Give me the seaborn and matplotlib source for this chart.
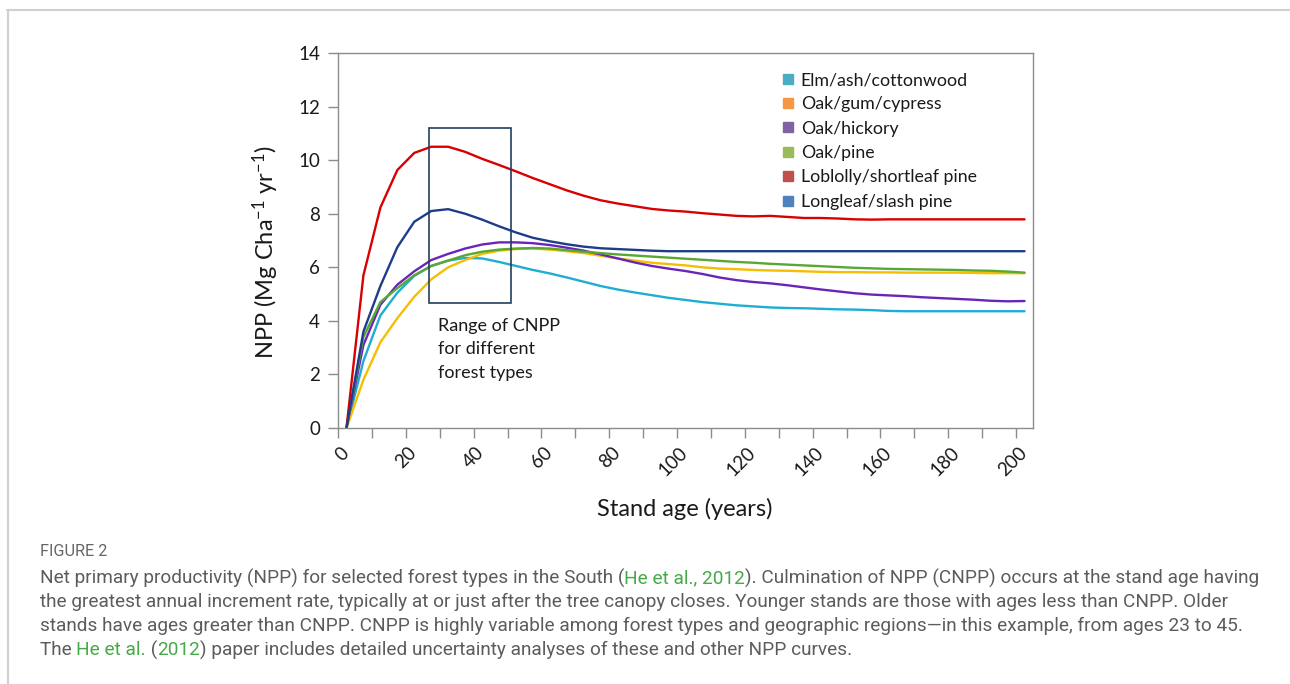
import matplotlib
matplotlib.use("Agg")
import matplotlib.pyplot as plt
import matplotlib.transforms as mtransforms
from matplotlib import font_manager
from matplotlib.lines import Line2D
from matplotlib.patches import Rectangle
import pandas as pd
import seaborn as sns

# NPP (Mg C/ha/yr), one value every 5 years of stand age
ages = list(range(0, 205, 5))
elm_ash_cottonwood = [0, 2.5, 4.2, 5.05, 5.68, 6.05, 6.25, 6.35, 6.33, 6.2,
                      6.05, 5.9, 5.77, 5.62, 5.46, 5.3, 5.17, 5.06, 4.96, 4.86,
                      4.78, 4.7, 4.64, 4.58, 4.54, 4.5, 4.48, 4.47, 4.45, 4.43,
                      4.42, 4.4, 4.37, 4.36, 4.36, 4.36, 4.36, 4.36, 4.36, 4.36, 4.36]
oak_gum_cypress = [0, 1.8, 3.2, 4.1, 4.9, 5.55, 6.0, 6.27, 6.5, 6.62,
                   6.68, 6.7, 6.66, 6.6, 6.53, 6.43, 6.33, 6.25, 6.17, 6.12,
                   6.07, 6.0, 5.95, 5.93, 5.9, 5.88, 5.87, 5.85, 5.83, 5.82,
                   5.82, 5.81, 5.81, 5.8, 5.8, 5.8, 5.8, 5.79, 5.78, 5.78, 5.78]
oak_hickory = [0, 3.1, 4.6, 5.35, 5.85, 6.27, 6.5, 6.7, 6.85, 6.93,
               6.93, 6.9, 6.83, 6.73, 6.62, 6.48, 6.33, 6.18, 6.05, 5.95,
               5.86, 5.75, 5.62, 5.52, 5.45, 5.4, 5.33, 5.25, 5.17, 5.1,
               5.03, 4.98, 4.95, 4.92, 4.88, 4.85, 4.82, 4.79, 4.75, 4.73, 4.74]
oak_pine = [0, 3.4, 4.7, 5.22, 5.7, 6.05, 6.25, 6.45, 6.58, 6.66,
            6.7, 6.72, 6.7, 6.64, 6.58, 6.53, 6.48, 6.44, 6.4, 6.36,
            6.32, 6.28, 6.24, 6.2, 6.17, 6.13, 6.1, 6.07, 6.04, 6.01,
            5.98, 5.96, 5.94, 5.93, 5.92, 5.91, 5.9, 5.88, 5.87, 5.84, 5.8]
loblolly_shortleaf = [0, 5.7, 8.23, 9.63, 10.27, 10.5, 10.5, 10.31, 10.05, 9.82,
                      9.58, 9.33, 9.1, 8.87, 8.67, 8.5, 8.38, 8.28, 8.18, 8.12,
                      8.08, 8.02, 7.97, 7.92, 7.9, 7.92, 7.88, 7.84, 7.84, 7.82,
                      7.79, 7.78, 7.79, 7.79, 7.79, 7.79, 7.79, 7.79, 7.79, 7.79, 7.79]
longleaf_slash = [0, 3.6, 5.3, 6.75, 7.7, 8.1, 8.17, 8.0, 7.78, 7.53,
                  7.3, 7.1, 6.97, 6.86, 6.77, 6.71, 6.68, 6.65, 6.62, 6.6,
                  6.6, 6.6, 6.6, 6.6, 6.6, 6.6, 6.6, 6.6, 6.6, 6.6,
                  6.6, 6.6, 6.6, 6.6, 6.6, 6.6, 6.6, 6.6, 6.6, 6.6, 6.6]

forest_types = ["Elm/ash/cottonwood", "Oak/gum/cypress", "Oak/hickory",
                "Oak/pine", "Loblolly/shortleaf pine", "Longleaf/slash pine"]
series = [elm_ash_cottonwood, oak_gum_cypress, oak_hickory,
          oak_pine, loblolly_shortleaf, longleaf_slash]
line_colors = ["#1fadd3", "#f7bd00", "#6a25b8", "#58a832", "#d80000", "#1f3c8a"]
legend_colors = ["#4bacc6", "#f79646", "#8064a2", "#9bbb59", "#c0504d", "#4f81bd"]

xticks = list(range(0, 201, 10))
xtick_labels = [str(v) if v % 20 == 0 else "" for v in xticks]
yticks = list(range(0, 15, 2))

# box marking the CNPP range (axis units)
cnpp_x = (26.8, 51.0)
cnpp_y = (4.65, 11.2)
cnpp_note = "Range of CNPP\nfor different\nforest types"

caption_head = "FIGURE 2"
GRAY, GREEN = "#5c5c5c", "#45a947"
caption_lines = [
    [("Net primary productivity (NPP) for selected forest types in the South (", GRAY),
     ("He et al., 2012", GREEN),
     ("). Culmination of NPP (CNPP) occurs at the stand age having", GRAY)],
    [("the greatest annual increment rate, typically at or just after the tree canopy closes. "
      "Younger stands are those with ages less than CNPP. Older", GRAY)],
    [("stands have ages greater than CNPP. CNPP is highly variable among forest types and "
      "geographic regions\u2014in this example, from ages 23 to 45.", GRAY)],
    [("The ", GRAY), ("He et al.", GREEN), (" (", GRAY), ("2012", GREEN),
     (") paper includes detailed uncertainty analyses of these and other NPP curves.", GRAY)],
]

# long-form table; Excel's category axis puts each point mid-category (+2.5 yr)
df = pd.concat([pd.DataFrame({"age": [a + 2.5 for a in ages], "npp": vals, "forest": name})
                for name, vals in zip(forest_types, series)], ignore_index=True)

sns.set_theme(style="white")
plt.rcParams["font.family"] = ["Lato", "DejaVu Sans"]
plt.rcParams["mathtext.default"] = "regular"

W, H = 1290, 684
fig = plt.figure(figsize=(W / 100, H / 100), dpi=100)
ax = fig.add_axes([338 / W, 1 - 428 / H, 695 / W, 375 / H])

sns.lineplot(data=df, x="age", y="npp", hue="forest", hue_order=forest_types,
             palette=dict(zip(forest_types, line_colors)), linewidth=1.7,
             estimator=None, sort=False, legend=False, ax=ax)

ax.set_xlim(0, 205)
ax.set_ylim(0, 14)
ax.set_xticks(xticks)
ax.set_xticklabels(xtick_labels, rotation=45, ha="right", va="center",
                   rotation_mode="anchor", fontsize=13.5)
ax.set_yticks(yticks)
ax.set_yticklabels([str(v) for v in yticks], fontsize=13.5)
ax.tick_params(axis="both", direction="out", length=7, width=1, color="#8c8c8c",
               labelcolor="#1a1a1a", bottom=True, left=True)
ax.tick_params(axis="x", pad=9)
ax.tick_params(axis="y", pad=6)
shift = mtransforms.ScaledTranslation(8 / 100, 0, fig.dpi_scale_trans)
for lab in ax.get_xticklabels():
    lab.set_transform(lab.get_transform() + shift)
for sp in ax.spines.values():
    sp.set_color("#8c8c8c")
    sp.set_linewidth(1)

ax.set_xlabel("Stand age (years)", fontsize=17, color="#1a1a1a")
ax.set_ylabel("NPP (Mg Cha$^{-1}$ yr$^{-1}$)", fontsize=17, color="#1a1a1a")
ax.xaxis.set_label_coords(0.499, -0.186)
ax.yaxis.set_label_coords(-0.082, 0.47)

ax.add_patch(Rectangle((cnpp_x[0], cnpp_y[0]), cnpp_x[1] - cnpp_x[0], cnpp_y[1] - cnpp_y[0],
                       fill=False, edgecolor="#243f60", linewidth=1.2, zorder=5))
ax.text(cnpp_x[0] + 2.6, cnpp_y[0] - 0.53, cnpp_note, ha="left", va="top",
        fontsize=13, linespacing=1.6, color="#1a1a1a")

handles = [Line2D([], [], marker="s", linestyle="", markersize=7,
                  markerfacecolor=c, markeredgecolor=c) for c in legend_colors]
ax.legend(handles, forest_types, loc="upper left", bbox_to_anchor=(783 / W, 1 - 72 / H),
          bbox_transform=fig.transFigure, frameon=False, fontsize=12.8,
          handlelength=0.55, handletextpad=0.45, labelspacing=0.47,
          borderpad=0, borderaxespad=0, labelcolor="#1a1a1a")

# page frame lines of the article figure box
fig.add_artist(Line2D([7 / W, 1], [1 - 9.5 / H, 1 - 9.5 / H], color="#d0d0d0", lw=1.5))
fig.add_artist(Line2D([7.5 / W, 7.5 / W], [0, 1 - 9.5 / H], color="#d0d0d0", lw=1.5))

# caption, with green citation links
names = {f.name for f in font_manager.fontManager.ttflist}
cap_font = "Liberation Sans Narrow" if "Liberation Sans Narrow" in names else "Roboto"
renderer = fig.canvas.get_renderer()


def text_width(s, size):
    t = fig.text(0, 0, s, fontsize=size, family=cap_font)
    w = t.get_window_extent(renderer).width
    t.remove()
    return w


def advance(s, size):
    return text_width(s + "|", size) - text_width("|", size)


full_first = "".join(s for s, _ in caption_lines[0])
cap_size = 12 * 1218 / advance(full_first, 12)

fig.text(40 / W, 1 - 551 / H, caption_head, fontsize=cap_size * 0.85, family=cap_font,
         color="#666666", va="center")
for i, parts in enumerate(caption_lines):
    x = 40
    y = 578 + 24 * i
    for s, c in parts:
        fig.text(x / W, 1 - y / H, s, fontsize=cap_size, family=cap_font, color=c, va="center")
        x += advance(s, cap_size)

fig.savefig("out.png", dpi=100, facecolor="white")
